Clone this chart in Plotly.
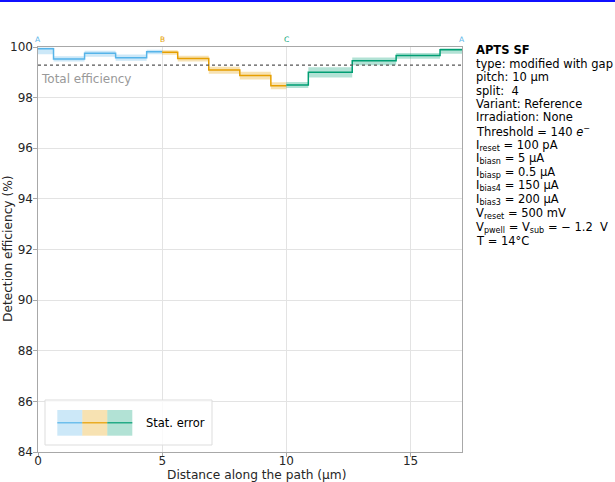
import plotly.graph_objects as go

# ---------------- data ----------------
blue_edges = [0.0, 0.625, 1.875, 3.125, 4.375, 5.0]
blue_eff = [99.93, 99.53, 99.75, 99.58, 99.81]
blue_lo = [0.22, 0.10, 0.14, 0.12, 0.10]
blue_hi = [0.05, 0.10, 0.10, 0.12, 0.08]

orange_edges = [5.0, 5.625, 6.875, 8.125, 9.375, 10.0]
orange_eff = [99.79, 99.55, 99.09, 98.87, 98.47]
orange_lo = [0.10, 0.12, 0.15, 0.15, 0.14]
orange_hi = [0.08, 0.10, 0.13, 0.15, 0.14]

green_edges = [10.0, 10.884, 12.652, 14.419, 16.187, 17.071]
green_eff = [98.50, 99.00, 99.46, 99.66, 99.89]
green_lo = [0.12, 0.20, 0.18, 0.12, 0.16]
green_hi = [0.12, 0.20, 0.13, 0.10, 0.06]

total_eff = 99.28
vertex_labels = ["A", "B", "C", "A"]
vertex_pos = [0.0, 5.0, 10.0, 17.071]

info_lines = [
    "<b>APTS SF</b>",
    "type: modified with gap",
    "pitch: 10 µm",
    "split:  4",
    "Variant: Reference",
    "Irradiation: None",
    "Threshold = 140 <i>e</i><sup>−</sup>",
    "I<sub>reset</sub> = 100 pA",
    "I<sub>biasn</sub> = 5 µA",
    "I<sub>biasp</sub> = 0.5 µA",
    "I<sub>bias4</sub> = 150 µA",
    "I<sub>bias3</sub> = 200 µA",
    "V<sub>reset</sub> = 500 mV",
    "V<sub>pwell</sub> = V<sub>sub</sub> = − 1.2  V",
    "T = 14°C",
]
info_y_px = [50, 63.5, 77, 90.5, 104, 117.5, 131, 145, 158.5, 172, 185.5, 199, 213, 227, 241]

colors = ["#56B4E9", "#E69F00", "#009E73"]
fills = ["rgba(86,180,233,0.3)", "rgba(230,159,0,0.3)", "rgba(0,158,115,0.3)"]

W, H = 615, 482
L, R, T, B = 38, 153, 47, 30
pw, ph = W - L - R, H - T - B

def px2paper(xp, yp):
    return (xp - L) / pw, (H - B - yp) / ph

fig = go.Figure()

segments = [
    (blue_edges, blue_eff, blue_lo, blue_hi),
    (orange_edges, orange_eff, orange_lo, orange_hi),
    (green_edges, green_eff, green_lo, green_hi),
]
for (edges, eff, lo, hi), c, f in zip(segments, colors, fills):
    up = [e + h for e, h in zip(eff, hi)]
    dn = [e - l for e, l in zip(eff, lo)]
    fig.add_trace(go.Scatter(x=edges, y=dn + [dn[-1]], mode="lines", line=dict(width=0, shape="hv"),
                             hoverinfo="skip", showlegend=False))
    fig.add_trace(go.Scatter(x=edges, y=up + [up[-1]], mode="lines", line=dict(width=0, shape="hv"),
                             fill="tonexty", fillcolor=f, hoverinfo="skip", showlegend=False))
    fig.add_trace(go.Scatter(x=edges, y=eff + [eff[-1]], mode="lines",
                             line=dict(color=c, width=1.5, shape="hv"), showlegend=False))

# total efficiency
fig.add_trace(go.Scatter(x=[0, green_edges[-1]], y=[total_eff, total_eff], mode="lines",
                         line=dict(color="#555555", width=1.2, dash="dot"), showlegend=False))

annotations = []
annotations.append(dict(x=0.05, y=total_eff - 0.2, xref="x", yref="y", text="Total efficiency",
                        showarrow=False, xanchor="left", yanchor="top",
                        font=dict(size=12, color="#999999")))
lab_colors = [colors[0], colors[1], colors[2], colors[0]]
for lab, pos, c in zip(vertex_labels, vertex_pos, lab_colors):
    annotations.append(dict(x=pos, y=1.0, xref="x", yref="paper", text=lab, showarrow=False,
                            xanchor="center", yanchor="bottom", yshift=1,
                            font=dict(size=7.5, color=c)))
for txt, yp in zip(info_lines, info_y_px):
    xpap, ypap = px2paper(474, yp)
    annotations.append(dict(x=xpap, y=ypap, xref="paper", yref="paper", text=txt, showarrow=False,
                            xanchor="left", yanchor="middle",
                            font=dict(size=11.5, color="#000000")))

# axis titles
ax_x, ax_y = px2paper(256, 474.5)
annotations.append(dict(x=ax_x, y=ax_y, xref="paper", yref="paper",
                        text="Distance along the path (µm)", showarrow=False,
                        xanchor="center", yanchor="middle", font=dict(size=12.2, color="#262626")))
ay_x, ay_y = px2paper(8, 249)
annotations.append(dict(x=ay_x, y=ay_y, xref="paper", yref="paper",
                        text="Detection efficiency (%)", showarrow=False, textangle=-90,
                        xanchor="center", yanchor="middle", font=dict(size=12.2, color="#262626")))

# legend box
shapes = []
x0, y0 = px2paper(45, 445)
x1, y1 = px2paper(212, 400)
shapes.append(dict(type="rect", xref="paper", yref="paper", x0=x0, y0=y0, x1=x1, y1=y1,
                   line=dict(color="#dddddd", width=1), fillcolor="rgba(255,255,255,0.8)"))
for i, (c, f) in enumerate(zip(colors, fills)):
    a0, b0 = px2paper(57.3 + 25 * i, 435.7)
    a1, b1 = px2paper(82.3 + 25 * i, 410)
    shapes.append(dict(type="rect", xref="paper", yref="paper", x0=a0, y0=b0, x1=a1, y1=b1,
                       line=dict(width=0), fillcolor=f))
    _, bm = px2paper(0, 422.8)
    shapes.append(dict(type="line", xref="paper", yref="paper", x0=a0, y0=bm, x1=a1, y1=bm,
                       line=dict(color=c, width=1.2)))
tx, ty = px2paper(144, 422.5)
annotations.append(dict(x=tx, y=ty, xref="paper", yref="paper", text="Stat. error", showarrow=False,
                        xanchor="left", yanchor="middle", font=dict(size=11.5, color="#000000")))

# top blue bar
bx0, by0 = px2paper(0, 2)
bx1, by1 = px2paper(W, 0)
shapes.append(dict(type="rect", xref="paper", yref="paper", x0=bx0, y0=by0, x1=bx1, y1=by1,
                   line=dict(width=0), fillcolor="#1010ff", layer="above"))

axis_common = dict(showline=True, mirror=True, linecolor="#a8a8a8", linewidth=1.2,
                   showgrid=True, gridcolor="#e3e3e3", gridwidth=1, zeroline=False,
                   ticks="outside", ticklen=3.5, tickcolor="#a8a8a8", automargin=False,
                   tickfont=dict(size=12, color="#262626"))

fig.update_layout(
    width=W, height=H,
    margin=dict(l=L, r=R, t=T, b=B, autoexpand=False),
    plot_bgcolor="white", paper_bgcolor="white",
    font=dict(family="DejaVu Sans", size=11, color="#262626"),
    xaxis=dict(range=[0, green_edges[-1]], tickvals=[0, 5, 10, 15], ticklabelstandoff=-6,
               **axis_common),
    yaxis=dict(range=[84, 100], tickvals=list(range(84, 101, 2)), ticklabelstandoff=-2,
               **axis_common),
    annotations=annotations,
    shapes=shapes,
    showlegend=False,
)

fig.write_html("out.html", config={"displayModeBar": False},
               post_script="document.body.style.margin='0px';")
